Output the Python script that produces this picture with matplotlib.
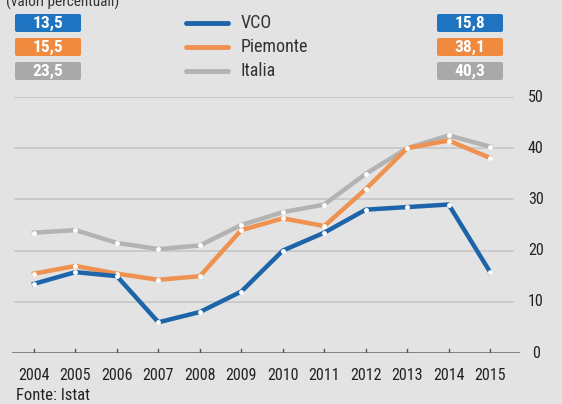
import matplotlib
matplotlib.use('Agg')
import matplotlib.pyplot as plt
from matplotlib.patches import FancyBboxPatch

plt.rcParams['font.family'] = ['Liberation Sans Narrow', 'Roboto Condensed', 'Roboto', 'DejaVu Sans']

# dati
anni = [2004, 2005, 2006, 2007, 2008, 2009, 2010, 2011, 2012, 2013, 2014, 2015]
vco = [13.5, 15.8, 15.0, 6.0, 8.0, 12.0, 20.0, 23.5, 28.0, 28.5, 29.0, 15.8]
piemonte = [15.5, 17.0, 15.5, 14.3, 15.0, 24.0, 26.3, 24.8, 32.0, 40.0, 41.5, 38.1]
italia = [23.5, 24.0, 21.5, 20.3, 21.0, 25.0, 27.5, 29.0, 35.0, 40.0, 42.5, 40.3]
serie = ['VCO', 'Piemonte', 'Italia']
val_inizio = ['13,5', '15,5', '23,5']
val_fine = ['15,8', '38,1', '40,3']
y_ticks = [0, 10, 20, 30, 40, 50]

col_linee = ['#1d64a8', '#ef9150', '#b3b3b3']
col_box = ['#1f74c2', '#f08a3f', '#a9a9a9']
bg = '#e3e3e3'

W, H = 562, 404
fig = plt.figure(figsize=(W / 100, H / 100), dpi=100, facecolor=bg)

def fx(px):
    return px / W

def fy(py):
    return 1 - py / H

ax = fig.add_axes([fx(12), fy(353), fx(520) - fx(12), fy(97) - fy(353)])
ax.set_xlim(2003.47, 2015.72)
ax.set_ylim(0, 50)
ax.patch.set_alpha(0)
for s in ax.spines.values():
    s.set_visible(False)

# griglia
for v in y_ticks[1:]:
    ax.plot([2003.55, 2015.55], [v, v], color='#c6c6c6', lw=1.2, zorder=1)
ax.axhline(0, color='#7a7a7a', lw=2, zorder=2)
for a in anni:
    ax.plot([a, a], [-0.8, 0.8], color='#555555', lw=1, zorder=2)

ax.set_xticks([])
ax.set_yticks([])
for a in anni:
    ax.text(a, -2.9, str(a), ha='center', va='top', fontsize=11.5, color='#222222')
for v in y_ticks:
    ax.text(2016.1, v, str(v), ha='center', va='center', fontsize=11.5, color='#222222')

for dati, c in zip([italia, piemonte, vco], col_linee[::-1]):
    ax.plot(anni, dati, color=c, lw=3.2, solid_joinstyle='round', zorder=3,
            marker='o', markersize=2.5, markerfacecolor='white', markeredgecolor='white')

# riquadri valori e legenda
righe = [23, 47, 71]
for i in range(3):
    yc = righe[i]
    for x0, testo in [(15, val_inizio[i]), (437, val_fine[i])]:
        box = FancyBboxPatch((fx(x0), fy(yc + 9)), fx(66), fy(0) - fy(18),
                             boxstyle='round,pad=0,rounding_size=0.004',
                             transform=fig.transFigure, facecolor=col_box[i],
                             edgecolor='none')
        fig.patches.append(box)
        fig.text(fx(x0 + 33), fy(yc), testo, ha='center', va='center',
                 fontsize=12.5, fontweight='bold', color='white')
    fig.add_artist(plt.Line2D([fx(186), fx(228)], [fy(yc), fy(yc)],
                              color=col_linee[i], lw=3.5, solid_capstyle='round',
                              transform=fig.transFigure))
    fig.text(fx(241), fy(yc), serie[i], ha='left', va='center', fontsize=13,
             color='#333333')

fig.text(fx(6), fy(2), '(valori percentuali)', ha='left', va='center',
         fontsize=11, color='#333333')
fig.text(fx(16), fy(396), 'Fonte: Istat', ha='left', va='center',
         fontsize=12, color='#222222')

fig.savefig('out.png', dpi=100, facecolor=bg)
